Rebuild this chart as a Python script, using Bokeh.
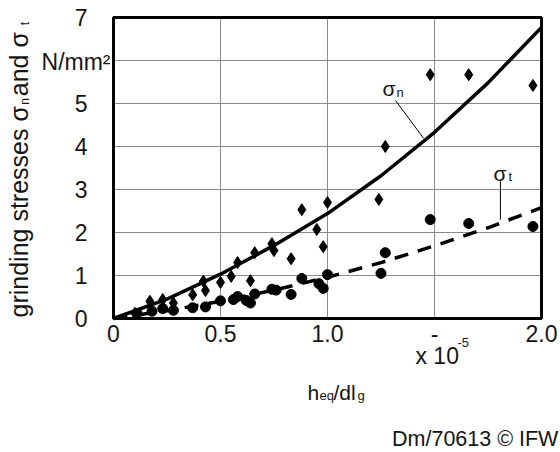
import math
from bokeh.plotting import figure
from bokeh.models import Label, Range1d, FixedTicker, LinearAxis
from bokeh.embed import file_html
from bokeh.resources import INLINE

# ---- data ----
sn_x = [0.10, 0.17, 0.23, 0.28, 0.37, 0.42, 0.43, 0.50, 0.55, 0.58, 0.64, 0.66,
        0.74, 0.75, 0.83, 0.88, 0.95, 0.98, 1.00, 1.24, 1.27, 1.48, 1.66, 1.96]
sn_y = [0.12, 0.40, 0.44, 0.36, 0.55, 0.87, 0.65, 0.84, 0.98, 1.30, 0.88, 1.53,
        1.74, 1.58, 1.39, 2.53, 2.07, 1.67, 2.70, 2.77, 4.00, 5.67, 5.67, 5.42]

st_x = [0.11, 0.18, 0.23, 0.28, 0.37, 0.43, 0.50, 0.56, 0.58, 0.62, 0.64, 0.66,
        0.74, 0.76, 0.83, 0.88, 0.96, 0.98, 1.00, 1.25, 1.27, 1.48, 1.66, 1.96]
st_y = [0.12, 0.17, 0.23, 0.19, 0.25, 0.27, 0.41, 0.44, 0.51, 0.42, 0.36, 0.57,
        0.68, 0.66, 0.56, 0.93, 0.81, 0.70, 1.02, 1.05, 1.53, 2.30, 2.21, 2.14]

curve_x = [0.0, 0.25, 0.5, 0.75, 1.0, 1.25, 1.5, 1.75, 2.0]
sn_fit = [0.0, 0.45, 1.03, 1.70, 2.44, 3.32, 4.33, 5.48, 6.77]
st_fit = [0.0, 0.18, 0.40, 0.66, 0.96, 1.30, 1.69, 2.11, 2.58]

x_ticks = [0, 0.5, 1.0, 1.5, 2.0]
x_tick_labels = ["0", "0.5", "1.0", "-", "2.0"]
y_ticks = [0, 1, 2, 3, 4, 5, 6, 7]
y_tick_labels = ["0", "1", "2", "3", "4", "5", "", "7"]

# leader lines for curve labels
sn_leader_x = [1.318, 1.449]
sn_leader_y = [5.07, 4.19]
st_leader_x = [1.808, 1.808]
st_leader_y = [3.19, 2.30]

FONT = "Liberation Sans"
TXT = "#151515"

# frame covers the whole canvas; axes are placed at data 0 with fixed_location
p = figure(width=560, height=452, output_backend="svg", toolbar_location=None,
           x_range=Range1d(-0.5280, 2.0888), y_range=Range1d(-3.1163, 7.3953),
           x_axis_location=None, y_axis_location=None, min_border=0)
p.background_fill_color = "white"
p.border_fill_color = "white"
p.outline_line_color = None
p.grid.visible = False

xmin, xmax = x_ticks[0], x_ticks[-1]
ymin, ymax = y_ticks[0], y_ticks[-1]

# grid lines inside the plotting box
inner_x = x_ticks[1:-1]
inner_y = y_ticks[1:-1]
p.segment(x0=inner_x, y0=[ymin] * len(inner_x), x1=inner_x, y1=[ymax] * len(inner_x),
          line_color="#8a8a8a", line_width=1)
p.segment(x0=[xmin] * len(inner_y), y0=inner_y, x1=[xmax] * len(inner_y), y1=inner_y,
          line_color="#8a8a8a", line_width=1)

# heavy box
p.quad(left=[xmin], right=[xmax], bottom=[ymin], top=[ymax],
       fill_color=None, line_color="black", line_width=3)

# axes
xaxis = LinearAxis(fixed_location=0, ticker=FixedTicker(ticks=x_ticks))
yaxis = LinearAxis(fixed_location=0, ticker=FixedTicker(ticks=y_ticks))
for ax in (xaxis, yaxis):
    ax.axis_line_color = None
    ax.major_tick_line_color = None
    ax.minor_tick_line_color = None
    ax.major_tick_out = 0
    ax.major_tick_in = 0
    ax.major_label_text_font = FONT
    ax.major_label_text_font_size = "23px"
    ax.major_label_text_color = TXT
xaxis.major_label_overrides = {t: l for t, l in zip(x_ticks, x_tick_labels)}
yaxis.major_label_overrides = {t: l for t, l in zip(y_ticks, y_tick_labels)}
xaxis.major_label_standoff = 7
yaxis.major_label_standoff = 26
p.add_layout(xaxis, "below")
p.add_layout(yaxis, "left")

# curves
p.line(curve_x, sn_fit, line_color="black", line_width=3.5)
p.line(curve_x, st_fit, line_color="black", line_width=3.5, line_dash="14 10")

# markers
p.scatter(sn_x, sn_y, marker="diamond", size=12, color="black")
p.scatter(st_x, st_y, marker="circle", size=10, color="black")

# leaders
p.line(sn_leader_x, sn_leader_y, line_color="black", line_width=1)
p.line(st_leader_x, st_leader_y, line_color="black", line_width=1)


def lab(x, y, text, size, angle=0.0, align="left", baseline="alphabetic"):
    p.add_layout(Label(x=x, y=y, text=text, text_font=FONT,
                       text_font_size=f"{size}px", angle=angle,
                       text_align=align, text_baseline=baseline,
                       text_color=TXT))


# curve labels
lab(1.257, 5.349, "σ", 21)
lab(1.322, 5.256, "n", 13)
lab(1.776, 3.372, "σ", 21)
lab(1.846, 3.302, "t", 13)

# y-axis label (rotated) pieces
rot = math.pi / 2
lab(-0.440, 0.023, "grinding stresses σ", 25, angle=rot)
lab(-0.412, 4.97, "n", 12, angle=rot)
lab(-0.440, 5.17, " and σ", 25, angle=rot)
lab(-0.412, 6.82, "t", 12, angle=rot)

# unit label in place of tick 6
lab(-0.014, 5.97, "N/mm²", 23, align="right")

# x-axis label
lab(0.907, -1.721, "h", 21)
lab(0.963, -1.791, "eq", 13)
lab(1.028, -1.721, "/dl", 21)
lab(1.140, -1.791, "g", 13)

# scale factor
lab(1.411, -0.861, "x 10", 23)
lab(1.607, -0.558, "-5", 13)

# footer
lab(2.079, -2.791, "Dm/70613 © IFW", 21.5, align="right")

open("out.html", "w").write(file_html(p, INLINE))
